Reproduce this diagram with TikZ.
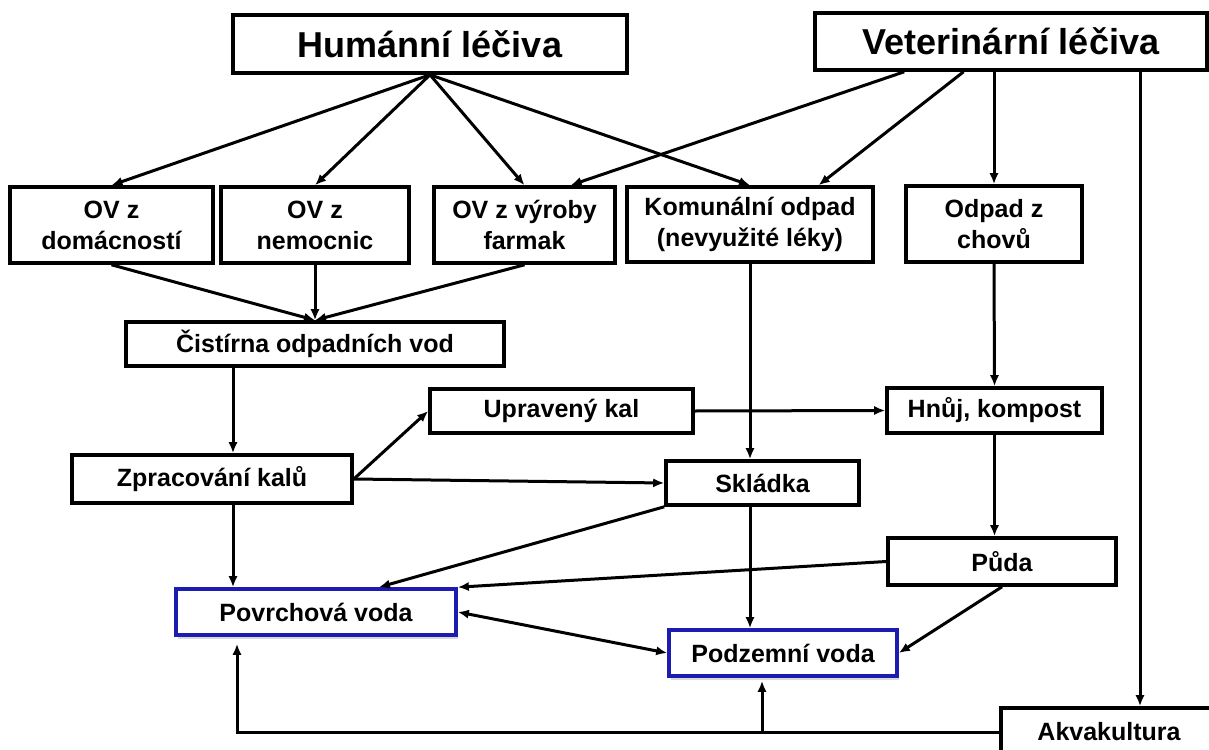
\documentclass[tikz,border=0pt]{standalone}
\usepackage{fontspec}
\setmainfont{Liberation Sans}
\usetikzlibrary{arrows.meta,calc,shadows}
\definecolor{ink}{HTML}{000000}
\definecolor{waterblue}{HTML}{1C1CB0}
\tikzset{
  every node/.style={font=\bfseries},
  box/.style={draw=ink, line width=1.8pt, fill=white, align=center, inner sep=1pt,
              font=\bfseries\fontsize{12.5}{15.5}\selectfont},
  titlebox/.style={box, font=\bfseries\fontsize{18}{21}\selectfont},
  waterbox/.style={box, draw=waterblue,
                   drop shadow={opacity=0.3, shadow xshift=1pt, shadow yshift=-2pt}},
  arr/.style={-{Latex[length=5.5pt, width=4.6pt]}, line width=1.5pt, draw=ink},
  darr/.style={{Latex[length=5.5pt, width=4.6pt]}-{Latex[length=5.5pt, width=4.6pt]},
               line width=1.5pt, draw=ink},
}

\begin{document}
\begin{tikzpicture}[x=0.5pt, y=-0.5pt]
\useasboundingbox (0,0) rectangle (1209,749);
\clip (0,0) rectangle (1209,749);

% sources
\node[titlebox, minimum width=197pt, minimum height=29pt] (hum) at (430,44) {Humánní léčiva};
\node[titlebox, minimum width=196pt, minimum height=28.5pt] (vet) at (1011,41.5) {Veterinární léčiva};

% second row
\node[box, minimum width=101.5pt, minimum height=38pt] (dom) at (111.5,225) {OV z\\domácností};
\node[box, minimum width=94pt, minimum height=38pt] (nem) at (315,225) {OV z\\nemocnic};
\node[box, minimum width=90.5pt, minimum height=38pt] (vyr) at (524.5,225) {OV z výroby\\farmak};
\node[box, minimum width=123pt, minimum height=37.5pt] (kom) at (750,224.5) {Komunální odpad\\(nevyužité léky)};
\node[box, minimum width=88pt, minimum height=38pt] (chov) at (994,224) {Odpad z\\chovů};

% treatment and sludge
\node[box, minimum width=189pt, minimum height=22pt] (cov) at (315,344) {Čistírna odpadních vod};
\node[box, minimum width=131.5pt, minimum height=22pt] (kal) at (561.5,411) {Upravený kal};
\node[box, minimum width=107.5pt, minimum height=22.5pt] (hnuj) at (994.5,410.5) {Hnůj, kompost};
\node[box, minimum width=140pt, minimum height=24pt] (zprac) at (212,479) {Zpracování kalů};
\node[box, minimum width=96.5pt, minimum height=22pt] (sklad) at (762.5,483) {Skládka};
\node[box, minimum width=114pt, minimum height=23.5pt] (puda) at (1002,561.5) {Půda};

% waters
\node[waterbox, minimum width=140pt, minimum height=23pt] (povrch) at (316,612) {Povrchová voda};
\node[waterbox, minimum width=114pt, minimum height=23pt] (podzem) at (783,653) {Podzemní voda};
\node[box, minimum width=108pt, minimum height=24pt] (akva) at (1109,732) {Akvakultura};

\coordinate (zpin) at ($(zprac.north)+(21,0)$);
\coordinate (aqtop) at ($(akva.north)+(31,0)$);
\coordinate (pvin) at ($(povrch.south)+(-79,0)$);
\coordinate (pzin) at ($(podzem.south)+(-21,0)$);

\draw[arr] (hum.south) -- (dom.north);
\draw[arr] (hum.south) -- (nem.north);
\draw[arr] (hum.south) -- (vyr.north);
\draw[arr] (hum.south) -- (kom.north);

\draw[arr] ($(vet.south west)!0.23!(vet.south east)$) -- ($(vyr.north)!0.5!(vyr.north east)$);
\draw[arr] ($(vet.south west)!0.38!(vet.south east)$) -- ($(kom.north)!0.55!(kom.north east)$);
\draw[arr] (vet.south -| chov.north) -- (chov.north);
\draw[arr] (vet.south -| aqtop) -- (aqtop);

\draw[arr] (dom.south) -- (cov.north);
\draw[arr] (nem.south) -- (cov.north);
\draw[arr] (vyr.south) -- (cov.north);
\draw[arr] (cov.south -| zpin) -- (zpin);

\draw[arr] (zprac.east) -- (kal.west);
\draw[arr] (zprac.east) -- (sklad.west);
\draw[arr] (kal.east) -- (hnuj.west);
\draw[arr] (kom.south) -- (kom.south |- sklad.north);
\draw[arr] (chov.south) -- (hnuj.north);
\draw[arr] (hnuj.south) -- (puda.north -| hnuj.south);

\draw[arr] (zprac.south -| zpin) -- (povrch.north -| zpin);
\draw[arr] (sklad.south west) -- ($(povrch.north)+(63,0)$);
\draw[arr] (puda.west) -- (povrch.north east);
\draw[darr] (povrch.east) -- (podzem.west);
\draw[arr] (sklad.south -| kom.south) -- (podzem.north -| kom.south);
\draw[arr] (puda.south) -- (podzem.east);

\draw[arr, shorten >=3.5pt] (akva.west) -| (pvin);
\draw[arr, shorten >=1.5pt] (akva.west -| pzin) -- (pzin);

\end{tikzpicture}
\end{document}
